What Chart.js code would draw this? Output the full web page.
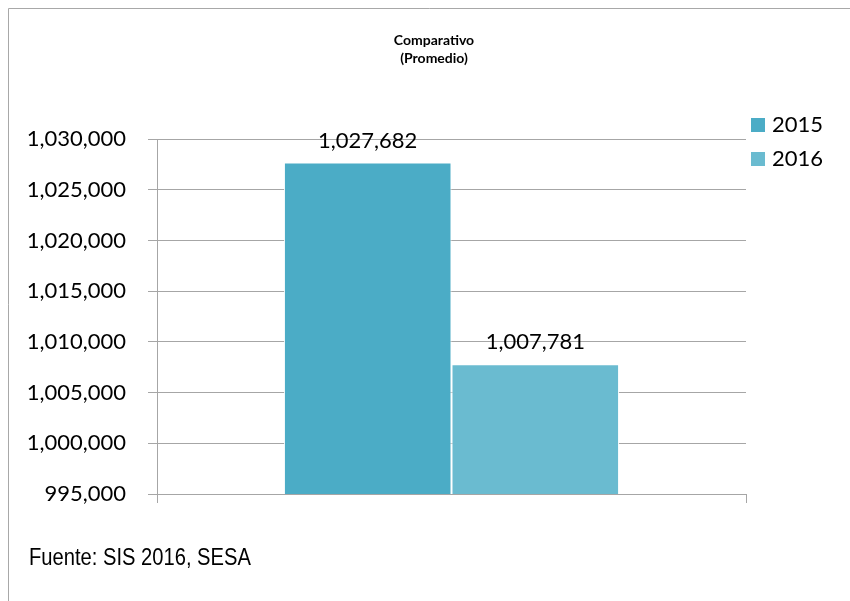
<!DOCTYPE html>
<html>
<head>
<meta charset="utf-8">
<script src="https://cdn.jsdelivr.net/npm/chart.js@4.4.6/dist/chart.umd.min.js"></script>
<style>
  html, body { margin: 0; padding: 0; background: #fff; }
  canvas { display: block; }
</style>
</head>
<body>
<canvas id="chart" width="850" height="601"></canvas>
<script>
const categories = ['Promedio']
const seriesLabels = ['2015', '2016']
const seriesValues = [[1027682], [1007781]]
const seriesColors = ['#4BACC6', '#6ABBD0']
const yTicks = { min: 995000, max: 1030000, step: 5000 }
const titleLines = ['Comparativo', '(Promedio)']
const sourceNote = 'Fuente: SIS 2016, SESA'

const grey = '#a6a6a6'
const fmt = (v) => v.toLocaleString('en-US')

const framePlugin = {
  id: 'frame',
  beforeDraw(chart) {
    const { ctx, width, height } = chart
    ctx.save()
    ctx.strokeStyle = '#a8a8a8'
    ctx.lineWidth = 1
    ctx.beginPath()
    ctx.moveTo(8.5, height)
    ctx.lineTo(8.5, 8.5)
    ctx.lineTo(width, 8.5)
    ctx.stroke()
    ctx.restore()
  }
}

// title sits a bit left of the plot centre, like the original sheet
const topTitle = {
  id: 'topTitle',
  afterDraw(chart) {
    const { ctx } = chart
    ctx.save()
    ctx.font = 'bold 14px Lato'
    ctx.fillStyle = '#000'
    ctx.textAlign = 'center'
    ctx.textBaseline = 'middle'
    titleLines.forEach((line, i) => ctx.fillText(line, 434, 40 + i * 18))
    ctx.restore()
  }
}

const valueLabels = {
  id: 'valueLabels',
  afterDatasetsDraw(chart) {
    const { ctx } = chart
    ctx.save()
    ctx.font = '22px Lato'
    ctx.fillStyle = '#000'
    ctx.textAlign = 'center'
    ctx.textBaseline = 'middle'
    chart.data.datasets.forEach((ds, i) => {
      chart.getDatasetMeta(i).data.forEach((bar, j) => {
        ctx.fillText(fmt(ds.data[j]), bar.x, bar.y - 22)
      })
    })
    ctx.restore()
  }
}

const sideLegend = {
  id: 'sideLegend',
  afterDraw(chart) {
    const { ctx, chartArea } = chart
    ctx.save()
    ctx.font = '22px Lato'
    ctx.textBaseline = 'middle'
    chart.data.datasets.forEach((ds, i) => {
      const y = chartArea.top - 14 + i * 34
      ctx.fillStyle = ds.backgroundColor
      ctx.fillRect(chartArea.right + 5, y - 7, 14, 14)
      ctx.fillStyle = '#000'
      ctx.fillText(ds.label, chartArea.right + 26, y)
    })
    ctx.restore()
  }
}

const footNote = {
  id: 'footNote',
  afterDraw(chart) {
    const { ctx } = chart
    ctx.save()
    ctx.font = '24px "Liberation Sans Narrow", "Liberation Sans", sans-serif'
    ctx.fillStyle = '#000'
    ctx.textBaseline = 'middle'
    ctx.translate(29, 558)
    ctx.scale(0.84, 1)
    ctx.fillText(sourceNote, 0, 0)
    ctx.restore()
  }
}

new Chart(document.getElementById('chart'), {
  type: 'bar',
  data: {
    labels: categories,
    datasets: seriesLabels.map((label, i) => ({
      label,
      data: seriesValues[i],
      backgroundColor: seriesColors[i],
      borderColor: '#ffffff',
      borderWidth: 1,
      categoryPercentage: 0.569,
      barPercentage: 1
    }))
  },
  options: {
    responsive: false,
    animation: false,
    devicePixelRatio: 1,
    layout: { padding: { left: 0, right: 104, top: 139, bottom: 98 } },
    plugins: {
      legend: { display: false },
      tooltip: { enabled: false },
      title: { display: false }
    },
    scales: {
      x: {
        offset: true,
        grid: { display: true, offset: true, drawOnChartArea: false, tickLength: 9, color: grey },
        border: { display: true, color: grey },
        ticks: { display: false }
      },
      y: {
        min: yTicks.min,
        max: yTicks.max,
        afterFit(scale) { scale.width = 157 },
        grid: { color: grey, tickLength: 9 },
        border: { display: true, color: grey },
        ticks: {
          stepSize: yTicks.step,
          padding: 22,
          color: '#000',
          font: { family: 'Lato', size: 22 },
          callback: (v) => fmt(v)
        }
      }
    }
  },
  plugins: [framePlugin, topTitle, valueLabels, sideLegend, footNote]
})
</script>
</body>
</html>
